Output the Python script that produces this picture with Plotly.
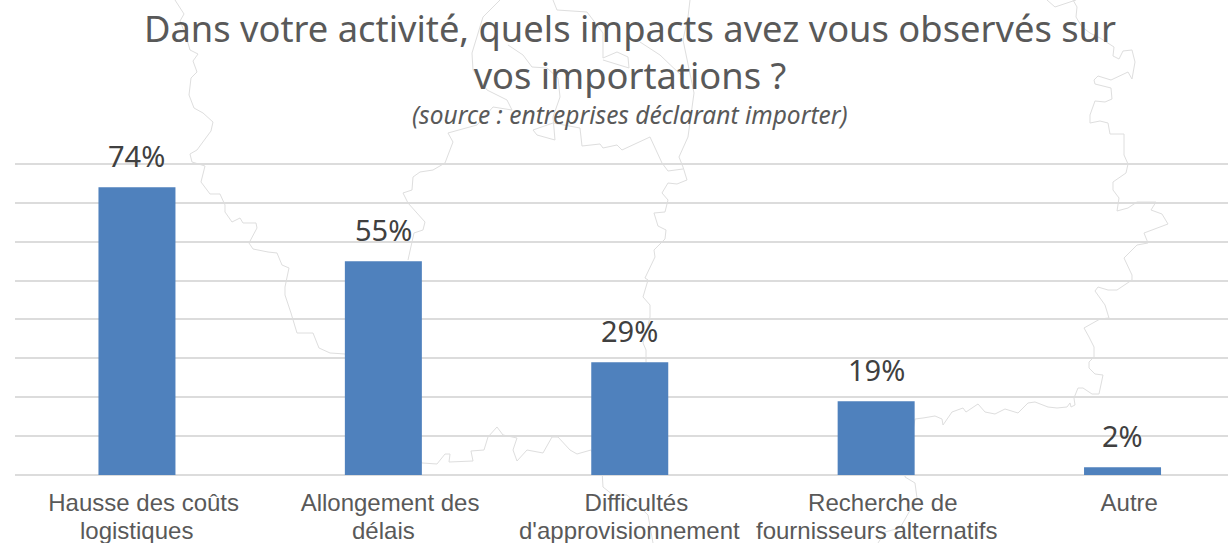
import plotly.graph_objects as go

# --- data ---
categories = ["Hausse des coûts", "Allongement des", "Difficultés", "Recherche de", "Autre"]
categories_line2 = ["logistiques", "délais", "d'approvisionnement", "fournisseurs alternatifs", ""]
values = [74, 55, 29, 19, 2]
title_text = "Dans votre activité, quels impacts avez vous observés sur<br>vos importations ?"
subtitle_text = "(source : entreprises déclarant importer)"

# --- faint background map outline (window pixels) ---
outlines = [
    [(175,0),(184,14),(180,21),(186,36),(190,50),(198,54),(193,61),(197,72),(191,78),(189,95),(194,108),(203,113),(213,122),(211,131),(197,150),(190,154),(192,162),(205,166),(201,182),(210,194),(220,194),(225,205),(225,212),(232,222),(240,218),(243,223),(256,223),(257,228),(249,243),(253,249),(268,252),(277,253),(282,265),(289,268),(285,287),(285,295),(291,313),(294,323),(297,333),(313,333),(319,348),(330,353),(345,354),(422,463),(437,464),(445,454),(450,454),(449,462),(473,461),(471,451),(484,450),(488,437),(497,427),(503,435),(517,438),(513,450),(517,461),(527,450),(543,453),(552,437),(558,437),(570,450),(577,454),(591,450),(602,470),(603,487),(613,495),(627,495),(648,515),(653,543)],
    [(878,543),(885,532),(900,528),(917,498),(915,483),(905,477),(915,419),(923,418),(935,416),(942,419),(943,425),(952,412),(963,408),(966,412),(978,404),(985,412),(995,414),(1005,409),(1018,413),(1028,403),(1035,402),(1048,407),(1057,408),(1067,407),(1070,403),(1071,407),(1075,405),(1074,398),(1078,388),(1083,388),(1092,394),(1099,394),(1103,375),(1095,374),(1089,368),(1089,362),(1094,357),(1094,347),(1089,337),(1084,328),(1100,319),(1109,318),(1105,305),(1095,291),(1098,287),(1108,290),(1117,290),(1132,280),(1132,275),(1124,258),(1137,245),(1148,243),(1144,233),(1168,224),(1162,214),(1151,210),(1156,202),(1137,202),(1128,208),(1117,211),(1119,198),(1113,190),(1113,182),(1126,173),(1128,164),(1124,155),(1124,134),(1110,134),(1108,123),(1100,121),(1090,123),(1090,115),(1095,101),(1105,102),(1112,99),(1111,88),(1095,84),(1094,80),(1098,76),(1111,80),(1128,72),(1132,79),(1135,62),(1132,50),(1123,51),(1119,59),(1113,56),(1114,47),(1100,38),(1090,33),(1082,27),(1076,17),(1077,7),(1073,0)],
    [(1076,0),(1055,7),(1047,0)],
    [(690,0),(688,17),(683,40),(694,93),(688,137),(679,157),(683,167),(687,180),(677,184),(668,183),(662,193),(668,200),(665,212),(654,213),(658,226),(666,230),(665,239),(654,250),(655,257),(645,278),(648,280),(643,297),(650,305),(650,317),(647,330),(643,343),(646,350),(646,362)],
    [(500,0),(483,17),(472,53),(473,70),(487,90),(507,100),(512,110),(493,107),(477,125),(448,133),(453,142),(445,163),(433,170),(420,172),(413,177),(412,190),(403,193),(408,203),(425,222),(423,230),(414,233),(408,260)],
    [(553,0),(557,10),(587,12),(603,33),(603,58),(617,52),(628,57),(629,68),(603,60)],
    [(508,45),(523,55),(532,67),(547,68),(558,78),(560,97),(553,117),(555,140),(537,135),(533,130),(553,123),(580,128),(582,146),(600,144),(603,148),(617,145),(622,150),(650,137),(662,163),(668,171),(683,169)],
    [(640,42),(660,55),(683,77)],
]

W, H = 1228, 543
def to_paper(pts):
    return "M " + " L ".join(f"{x / W:.5f},{1 - y / H:.5f}" for x, y in pts)

shapes = [dict(type="path", path=to_paper(p), xref="paper", yref="paper", layer="below",
               line=dict(color="#dedede", width=1)) for p in outlines]

ticks = [f"\u00a0\u00a0{a}" for a in categories]
x_pos = list(range(len(values)))

fig = go.Figure(go.Bar(x=x_pos, y=values, width=0.3125, marker=dict(color="#4f81bd", line=dict(width=0)),
                       hoverinfo="skip"))

annotations = [dict(x=i, y=v, text=f"{v}%", showarrow=False, yanchor="bottom", yshift=10,
                    font=dict(family="Noto Sans", size=29, color="#404040"))
               for i, v in zip(x_pos, values)]
annotations += [dict(x=i, xref="x", yref="paper", y=1 - 530 / H, text=t, showarrow=False, yanchor="middle",
                     font=dict(family="Liberation Sans", size=24, color="#595959"))
                for i, t in zip(x_pos, categories_line2) if t]
annotations.append(dict(xref="paper", yref="paper", x=630 / W, y=1 - 114 / H, text=f"<i>{subtitle_text}</i>",
                        showarrow=False, xanchor="center", yanchor="middle",
                        font=dict(family="Noto Sans", size=24.5, color="#595959")))

fig.update_layout(
    width=W, height=H, margin=dict(l=0, r=0, t=0, b=0), autosize=False,
    paper_bgcolor="white", plot_bgcolor="rgba(0,0,0,0)", showlegend=False,
    title=dict(text=title_text, x=630 / W, xanchor="center", y=1 - 42 / H, yanchor="top",
               font=dict(family="Noto Sans", size=36.3, color="#595959")),
    xaxis=dict(domain=[15 / W, 1], range=[-0.495, 4.428], tickmode="array", tickvals=x_pos, ticktext=ticks,
               showgrid=False, zeroline=False, showline=False, ticks="", ticklabelstandoff=11,
               tickfont=dict(family="Liberation Sans", size=24, color="#595959")),
    yaxis=dict(domain=[1 - 475 / H, 1 - 160.1 / H], range=[0, 81], tick0=0, dtick=10, showticklabels=False,
               gridcolor="#dcdcdc", gridwidth=2, zeroline=True, zerolinecolor="#dcdcdc", zerolinewidth=2),
    shapes=shapes, annotations=annotations,
)

fig.write_html("out.html", config=dict(displayModeBar=False),
               post_script="document.body.style.margin='0';document.body.style.overflow='hidden';")
